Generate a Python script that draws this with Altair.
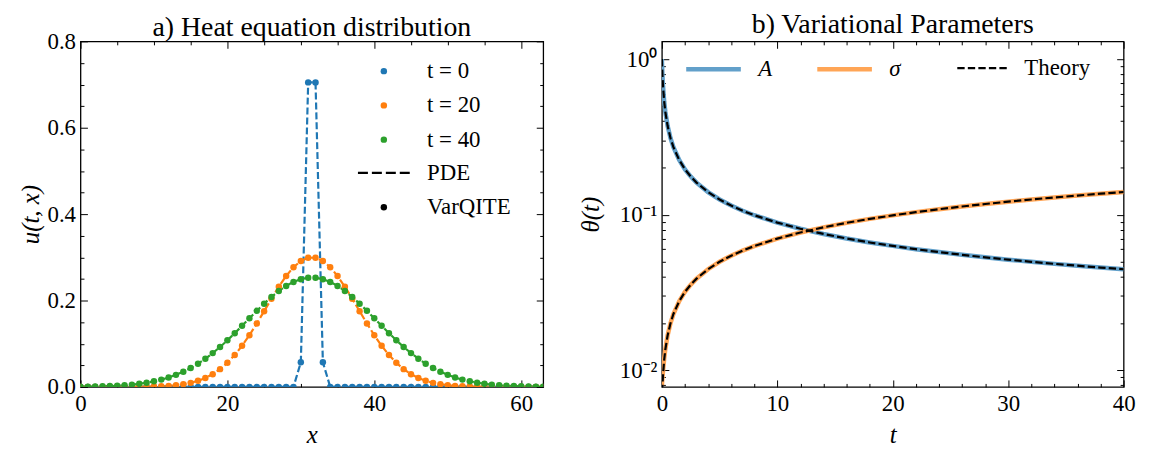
import altair as alt
import pandas as pd

FONT = "Liberation Serif"

# ---------------- panel a) data ----------------
x_pos = [0, 1, 2, 3, 4, 5, 6, 7, 8, 9, 10, 11, 12, 13, 14, 15, 16, 17, 18, 19,
         20, 21, 22, 23, 24, 25, 26, 27, 28, 29, 30, 31, 32, 33, 34, 35, 36, 37, 38, 39,
         40, 41, 42, 43, 44, 45, 46, 47, 48, 49, 50, 51, 52, 53, 54, 55, 56, 57, 58, 59,
         60, 61, 62, 63]
u_t0 = [0, 0, 0, 0, 0, 0, 0, 0, 0, 0, 0, 0, 0, 0, 0, 0, 0, 0, 0, 0,
        0, 0, 0, 0, 0, 0, 0, 0, 0, 0, 0.057, 0.705, 0.705, 0.057, 0, 0, 0, 0, 0, 0,
        0, 0, 0, 0, 0, 0, 0, 0, 0, 0, 0, 0, 0, 0, 0, 0, 0, 0, 0, 0,
        0, 0, 0, 0]
u_t20 = [0, 0, 0, 0, 0, 0, 0, 0.0001, 0.0003, 0.0005, 0.0008, 0.0014, 0.0024, 0.0039,
         0.0061, 0.0094, 0.0141, 0.0207, 0.0295, 0.0411, 0.0558, 0.0738, 0.0952, 0.1197,
         0.1467, 0.1753, 0.2041, 0.2319, 0.2567, 0.2771, 0.2915, 0.2990, 0.2990, 0.2915,
         0.2771, 0.2567, 0.2319, 0.2041, 0.1753, 0.1467, 0.1197, 0.0952, 0.0738, 0.0558,
         0.0411, 0.0295, 0.0207, 0.0141, 0.0094, 0.0061, 0.0039, 0.0024, 0.0014, 0.0008,
         0.0005, 0.0003, 0.0001, 0, 0, 0, 0, 0, 0, 0]
u_t40 = [0.0004, 0.0006, 0.0009, 0.0014, 0.0019, 0.0027, 0.0038, 0.0053, 0.0072, 0.0097,
         0.0129, 0.0169, 0.0218, 0.0279, 0.0352, 0.0438, 0.0538, 0.0653, 0.0782, 0.0924,
         0.1079, 0.1244, 0.1414, 0.1588, 0.1761, 0.1927, 0.2082, 0.2221, 0.2338, 0.2430,
         0.2494, 0.2526, 0.2526, 0.2494, 0.2430, 0.2338, 0.2221, 0.2082, 0.1927, 0.1761,
         0.1588, 0.1414, 0.1244, 0.1079, 0.0924, 0.0782, 0.0653, 0.0538, 0.0438, 0.0352,
         0.0279, 0.0218, 0.0169, 0.0129, 0.0097, 0.0072, 0.0053, 0.0038, 0.0027, 0.0019,
         0.0014, 0.0009, 0.0006, 0.0004]
series_labels = ["t = 0", "t = 20", "t = 40"]
series_colors = ["#1f77b4", "#ff7f0e", "#2ca02c"]
method_labels = ["PDE", "VarQITE"]

# ---------------- panel b) data ----------------
t_vals = [0, 0.02, 0.05, 0.1, 0.2, 0.3, 0.5, 0.75, 1, 1.5, 2, 2.5, 3, 4, 5, 6, 7, 8,
          10, 12, 14, 16, 18, 20, 22, 24, 26, 28, 30, 32, 34, 36, 38, 40]
A_varqite = [1.0, 0.894, 0.784, 0.666, 0.533, 0.458, 0.371, 0.310, 0.2715, 0.2245,
             0.1956, 0.1756, 0.1607, 0.1397, 0.1252, 0.1144, 0.1060, 0.0992, 0.0889,
             0.0812, 0.0752, 0.0703, 0.0663, 0.0630, 0.0600, 0.0575, 0.0552, 0.0532,
             0.0514, 0.0498, 0.0483, 0.0470, 0.0457, 0.0446]
sigma_varqite = [0.0080, 0.0084, 0.0090, 0.0099, 0.0119, 0.0137, 0.0168, 0.0201, 0.0230,
                 0.0278, 0.0319, 0.0355, 0.0388, 0.0446, 0.0498, 0.0545, 0.0588, 0.0628,
                 0.0702, 0.0768, 0.0829, 0.0886, 0.0940, 0.0990, 0.1038, 0.1084, 0.1128,
                 0.1171, 0.1212, 0.1252, 0.1290, 0.1327, 0.1364, 0.1399]
A_theory = [1.0, 0.894, 0.784, 0.666, 0.533, 0.458, 0.371, 0.310, 0.2715, 0.2245,
            0.1956, 0.1756, 0.1607, 0.1397, 0.1252, 0.1144, 0.1060, 0.0992, 0.0889,
            0.0812, 0.0752, 0.0703, 0.0663, 0.0630, 0.0600, 0.0575, 0.0552, 0.0532,
            0.0514, 0.0498, 0.0483, 0.0470, 0.0457, 0.0446]
sigma_theory = [0.0062, 0.0070, 0.0080, 0.0094, 0.0117, 0.0136, 0.0168, 0.0201, 0.0230,
                0.0278, 0.0319, 0.0355, 0.0388, 0.0446, 0.0498, 0.0545, 0.0588, 0.0628,
                0.0702, 0.0768, 0.0829, 0.0886, 0.0940, 0.0990, 0.1038, 0.1084, 0.1128,
                0.1171, 0.1212, 0.1252, 0.1290, 0.1327, 0.1364, 0.1399]
param_labels = ["A", "σ"]
param_colors = ["#62a0ca", "#ffa556"]
theory_label = ["Theory"]

# ---------------- tick values ----------------
xa_ticks = [0, 5, 10, 15, 20, 25, 30, 35, 40, 45, 50, 55, 60]
ya_ticks = [0.0, 0.05, 0.1, 0.15, 0.2, 0.25, 0.3, 0.35, 0.4, 0.45, 0.5, 0.55, 0.6,
            0.65, 0.7, 0.75, 0.8]
xb_ticks = [0, 2, 4, 6, 8, 10, 12, 14, 16, 18, 20, 22, 24, 26, 28, 30, 32, 34, 36, 38, 40]
yb_ticks = [0.008, 0.009, 0.01, 0.02, 0.03, 0.04, 0.05, 0.06, 0.07, 0.08, 0.09,
            0.1, 0.2, 0.3, 0.4, 0.5, 0.6, 0.7, 0.8, 0.9, 1.0]

W1, W2, H = 466, 465, 348
MAJ, MIN = 7, 3.5


def dash(L, length):
    return [L, length - 2 * L, L, 3000]


def grid_axis(title, values, major_test, label_expr, length, **kw):
    return alt.Axis(
        title=title, values=values, labelExpr=label_expr,
        ticks=False, domain=False, grid=True, gridColor="black",
        gridOpacity=1, gridWidth=1,
        gridDash={"condition": {"test": major_test, "value": dash(MAJ, length)},
                  "value": dash(MIN, length)},
        labelOverlap=False, labelFlush=False,
        labelFont=FONT, labelFontSize=23, labelColor="black",
        titleFont=FONT, titleFontSize=25, titleFontWeight="normal",
        titleFontStyle="italic", titleColor="black", **kw)


# ---------------- panel a) ----------------
rows_a = []
for lab, ys in zip(series_labels, [u_t0, u_t20, u_t40]):
    for xv, yv in zip(x_pos, ys):
        rows_a.append({"x": xv, "u": yv, "series": lab, "kind": "VarQITE"})
df_a = pd.DataFrame(rows_a)

xa = alt.X("x:Q", scale=alt.Scale(domain=[0, 63], nice=False, zero=False),
           axis=grid_axis("x", xa_ticks, "datum.value % 20 == 0",
                          "datum.value % 20 == 0 ? datum.label : ''", H,
                          labelPadding=5.5, titlePadding=7))
ya = alt.Y("u:Q", scale=alt.Scale(domain=[0, 0.8], nice=False),
           axis=grid_axis("u(t, x)", ya_ticks,
                          "abs(datum.value*5 - round(datum.value*5)) < 1e-6",
                          "abs(datum.value*5 - round(datum.value*5)) < 1e-6 ? format(datum.value, '.1f') : ''",
                          W1, labelPadding=5, titlePadding=4))

DASH_PATH = ("M-8.05,-0.35H-4.95V0.35H-8.05Z M-3.72,-0.35H-0.62V0.35H-3.72Z "
             "M0.62,-0.35H3.72V0.35H0.62Z M4.95,-0.35H8.05V0.35H4.95Z")

line_layers = []
for lab, col in zip(series_labels, series_colors):
    line_layers.append(
        alt.Chart(df_a).transform_filter(alt.datum.series == lab)
        .mark_line(color=col, strokeDash=[7, 3], strokeWidth=2.2, clip=True)
        .encode(x=xa, y=ya)
    )

leg_common = dict(title=None, orient="none", symbolSize=42, labelOffset=32, rowPadding=10.5,
                  symbolStrokeWidth=0, labelFont=FONT, labelFontSize=23, labelColor="black")
points = alt.Chart(df_a).mark_point(filled=True, size=42, opacity=1, clip=True).encode(
    x=xa, y=ya,
    color=alt.Color("series:N", sort=series_labels,
                    scale=alt.Scale(domain=series_labels, range=series_colors),
                    legend=alt.Legend(legendX=294, legendY=18.5, **leg_common)),
    shape=alt.Shape("kind:N",
                    scale=alt.Scale(domain=method_labels, range=[DASH_PATH, "circle"]),
                    legend=alt.Legend(legendX=294, legendY=121,
                                      symbolFillColor="black", symbolStrokeColor="black",
                                      **leg_common)),
)

left = alt.layer(*line_layers, points).properties(
    width=W1, height=H,
    title=alt.TitleParams("a) Heat equation distribution", offset=-11.5),
)

# ---------------- panel b) ----------------
rows_b = []
for ser, meth, cur, ys in [("A", "VarQITE", "A", A_varqite),
                           ("σ", "VarQITE", "sigma", sigma_varqite),
                           ("Theory", "Theory", "thA", A_theory),
                           ("Theory", "Theory", "thS", sigma_theory)]:
    for tv, yv in zip(t_vals, ys):
        rows_b.append({"t": tv, "theta": yv, "series": ser, "method": meth, "curve": cur})
df_b = pd.DataFrame(rows_b)

xb = alt.X("t:Q", scale=alt.Scale(domain=[0, 40], nice=False, zero=False),
           axis=grid_axis("t", xb_ticks, "datum.value % 10 == 0",
                          "datum.value % 10 == 0 ? datum.label : ''", H,
                          labelPadding=5.5, titlePadding=7))
major_log = "datum.value == 1 || datum.value == 0.1 || datum.value == 0.01"
yb = alt.Y("theta:Q", scale=alt.Scale(type="log", domain=[0.00782, 1.30], nice=False, zero=False),
           axis=grid_axis("θ(t)", yb_ticks, major_log,
                          "datum.value == 1 ? '10⁰' : datum.value == 0.1 ? '10⁻¹' : datum.value == 0.01 ? '10⁻²' : ''",
                          W2, labelPadding=5, titlePadding=16))

leg_b = dict(title=None, orient="none", direction="horizontal", labelFont=FONT,
             labelFontSize=23, labelColor="black")

var_lines = (
    alt.Chart(df_b).transform_filter(alt.datum.method == "VarQITE")
    .mark_line(clip=True, strokeWidth=4.5)
    .encode(x=xb, y=yb, detail="curve:N",
            color=alt.Color("series:N", sort=param_labels,
                            scale=alt.Scale(domain=param_labels, range=param_colors),
                            legend=alt.Legend(legendX=22, legendY=-2, symbolSize=3025,
                                              symbolStrokeWidth=4.5, labelOffset=15,
                                              columnPadding=35, labelFontStyle="italic",
                                              **leg_b)))
)
th_lines = (
    alt.Chart(df_b).transform_filter(alt.datum.method == "Theory")
    .mark_line(clip=True, strokeWidth=2.2, color="black")
    .encode(x=xb, y=yb, detail="curve:N",
            strokeDash=alt.StrokeDash("method:N",
                                      scale=alt.Scale(domain=theory_label, range=[[7.4, 3.2]]),
                                      legend=alt.Legend(legendX=296, legendY=0.5, symbolSize=2500,
                                                        symbolStrokeWidth=2.2,
                                                        symbolStrokeColor="black",
                                                        labelOffset=16, **leg_b)))
)

right = alt.layer(var_lines, th_lines).properties(
    width=W2, height=H,
    title=alt.TitleParams("b) Variational Parameters", offset=0.5),
)

chart = (
    alt.hconcat(left, right, spacing=33.5)
    .resolve_scale(color="independent", shape="independent", strokeDash="independent")
    .properties(padding={"left": 9, "top": 0, "right": 5, "bottom": 5})
    .configure(font=FONT,
               style={"guide-label": {"font": FONT, "fontSize": 23, "fill": "black"},
                      "guide-title": {"font": FONT, "fontSize": 25, "fill": "black"}})
    .configure_view(stroke="black", strokeWidth=1.3)
    .configure_axis(labelFontSize=23, labelColor="black",
                    titleFontSize=25, titleFontWeight="normal", titleColor="black")
    .configure_legend(labelFont=FONT, labelFontSize=23, labelColor="black")
    .configure_title(font=FONT, fontSize=28, fontWeight="normal", color="black")
)

chart.save("out.html", embed_options={"renderer": "svg", "actions": False})
